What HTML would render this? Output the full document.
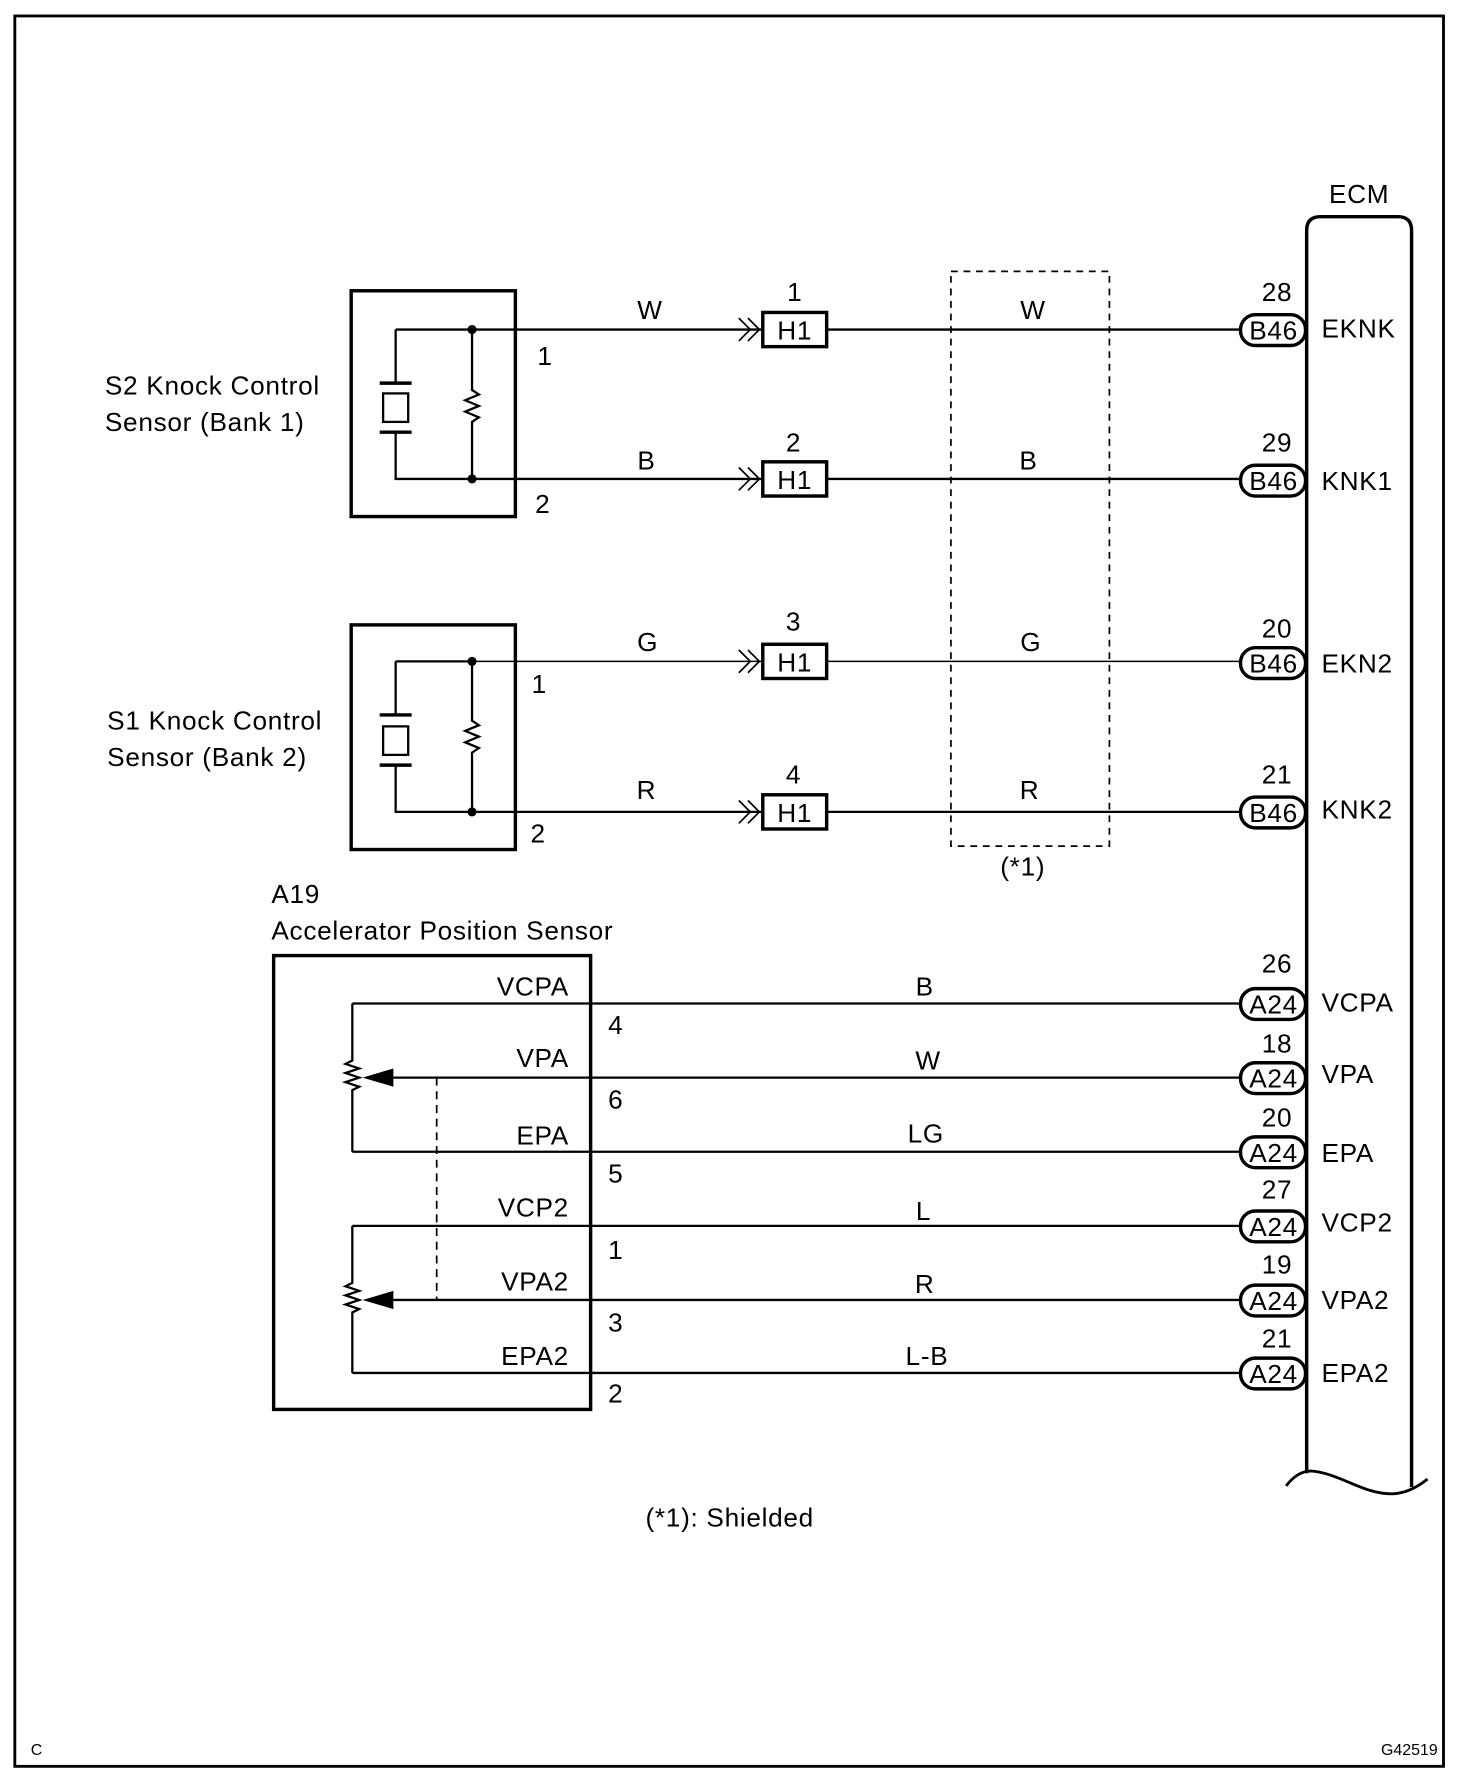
<!DOCTYPE html>
<html><head><meta charset="utf-8"><style>
html,body{margin:0;padding:0;background:#fff;}
svg{display:block;}
text{font-family:"Liberation Sans",Arial,sans-serif;font-size:23px;letter-spacing:0.6px;fill:#000;dominant-baseline:central;}
.m{text-anchor:middle}.e{text-anchor:end}
</style></head><body>
<svg width="1472" height="1788" viewBox="0 0 1291 1568" preserveAspectRatio="none" xmlns="http://www.w3.org/2000/svg">
<g fill="none" stroke="#000" stroke-width="2">
<rect x="13" y="14" width="1253" height="1535" stroke-width="2.5"/>
<path d="M1146,1292 V202 Q1146,190 1158,190 H1226 Q1238,190 1238,202 V1304" stroke-width="3"/>
<path d="M1128,1303 Q1138,1290 1150,1290 C1175,1292 1195,1310 1220,1310 Q1236,1310 1252,1297" stroke-width="2.5"/>
<rect x="834" y="238" width="139" height="504" stroke-dasharray="6,5" stroke-width="1.5"/>
<rect x="308" y="255" width="144" height="198" stroke-width="3"/>
<path d="M414,289 V342 l6,4 -12,5 12,5 -12,5 12,5 -6,4 V420"/>
<path d="M347,289 H414 M347,289 V336 M347,379 V420 H414"/>
<path d="M333,336 H361 M333,379 H361" stroke-width="3"/>
<rect x="336" y="345" width="22" height="25"/>
<rect x="308" y="548" width="144" height="197" stroke-width="3"/>
<path d="M414,580 V632 l6,4 -12,5 12,5 -12,5 12,5 -6,4 V712"/>
<path d="M347,580 H414 M347,580 V627 M347,671 V712 H414"/>
<path d="M333,627 H361 M333,671 H361" stroke-width="3"/>
<rect x="336" y="637" width="22" height="25"/>
<path d="M414,289 H668 M414,420 H668 M414,712 H668 M725,289 H1088 M725,420 H1088 M725,712 H1088"/>
<path d="M414,580 H668 M725,580 H1088" stroke-width="1.3"/>
<path d="M648,279 l10,10 -10,10 M656,279 l10,10 -10,10 M648,410 l10,10 -10,10 M656,410 l10,10 -10,10 M648,570 l10,10 -10,10 M656,570 l10,10 -10,10 M648,702 l10,10 -10,10 M656,702 l10,10 -10,10" stroke-width="1.5"/>
<g stroke-width="3">
<rect x="669" y="274" width="56" height="30"/><rect x="669" y="405" width="56" height="30"/>
<rect x="669" y="565" width="56" height="30"/><rect x="669" y="697" width="56" height="30"/>
</g>
<g stroke-width="3">
<rect x="1088" y="276" width="57" height="27" rx="13"/><rect x="1088" y="408" width="57" height="27" rx="13"/>
<rect x="1088" y="568" width="57" height="27" rx="13"/><rect x="1088" y="699" width="57" height="27" rx="13"/>
<rect x="1088" y="867" width="57" height="27" rx="13"/><rect x="1088" y="932" width="57" height="27" rx="13"/>
<rect x="1088" y="997" width="57" height="27" rx="13"/><rect x="1088" y="1062" width="57" height="27" rx="13"/>
<rect x="1088" y="1127" width="57" height="27" rx="13"/><rect x="1088" y="1191" width="57" height="27" rx="13"/>
</g>
<rect x="240" y="838" width="278" height="398" stroke-width="3"/>
<path d="M309,880 H1088 M345,945 H1088 M309,1010 H1088 M309,1075 H1088 M345,1140 H1088 M309,1204 H1088"/>
<path d="M309,880 V930 l-6,3 12,4 -12,4 12,4 -12,4 12,4 -6,3 V1010"/>
<path d="M309,1075 V1125 l-6,3 12,4 -12,4 12,4 -12,4 12,4 -6,3 V1204"/>
<path d="M383,945 V1140" stroke-dasharray="7,5" stroke-width="1.5"/>
</g>
<g fill="#000">
<circle cx="414" cy="289" r="4"/><circle cx="414" cy="420" r="4"/>
<circle cx="414" cy="580" r="4"/><circle cx="414" cy="712" r="4"/>
<polygon points="318,945 345,937 345,953"/><polygon points="318,1140 345,1132 345,1148"/>
</g>
<text class="m" x="1192" y="170">ECM</text>
<text x="92" y="338">S2 Knock Control</text><text x="92" y="370">Sensor (Bank 1)</text>
<text x="94" y="632">S1 Knock Control</text><text x="94" y="664">Sensor (Bank 2)</text>
<text class="m" x="478" y="312">1</text><text class="m" x="476" y="442">2</text>
<text class="m" x="473" y="600">1</text><text class="m" x="472" y="731">2</text>
<text class="m" x="570" y="272">W</text><text class="m" x="567" y="404">B</text>
<text class="m" x="568" y="563">G</text><text class="m" x="567" y="693">R</text>
<text class="m" x="697" y="256">1</text><text class="m" x="696" y="388">2</text>
<text class="m" x="696" y="545">3</text><text class="m" x="696" y="679">4</text>
<text class="m" x="697" y="290">H1</text><text class="m" x="697" y="421">H1</text>
<text class="m" x="697" y="581">H1</text><text class="m" x="697" y="713">H1</text>
<text class="m" x="906" y="272">W</text><text class="m" x="902" y="404">B</text>
<text class="m" x="904" y="563">G</text><text class="m" x="903" y="693">R</text>
<text class="m" x="897" y="760">(*1)</text>
<text class="m" x="1120" y="256">28</text><text class="m" x="1120" y="388">29</text>
<text class="m" x="1120" y="551">20</text><text class="m" x="1120" y="679">21</text>
<text class="m" x="1117" y="290">B46</text><text class="m" x="1117" y="422">B46</text>
<text class="m" x="1117" y="582">B46</text><text class="m" x="1117" y="713">B46</text>
<text x="1159" y="288">EKNK</text><text x="1159" y="422">KNK1</text>
<text x="1159" y="582">EKN2</text><text x="1159" y="710">KNK2</text>
<text x="238" y="784">A19</text><text x="238" y="816">Accelerator Position Sensor</text>
<text class="e" x="499" y="865">VCPA</text><text class="e" x="499" y="928">VPA</text>
<text class="e" x="499" y="996">EPA</text><text class="e" x="499" y="1059">VCP2</text>
<text class="e" x="499" y="1124">VPA2</text><text class="e" x="499" y="1189">EPA2</text>
<text class="m" x="540" y="899">4</text><text class="m" x="540" y="964">6</text>
<text class="m" x="540" y="1029">5</text><text class="m" x="540" y="1096">1</text>
<text class="m" x="540" y="1160">3</text><text class="m" x="540" y="1222">2</text>
<text class="m" x="811" y="865">B</text><text class="m" x="814" y="930">W</text>
<text class="m" x="812" y="994">LG</text><text class="m" x="810" y="1062">L</text>
<text class="m" x="811" y="1126">R</text><text class="m" x="813" y="1189">L-B</text>
<text class="m" x="1120" y="845">26</text><text class="m" x="1120" y="915">18</text>
<text class="m" x="1120" y="980">20</text><text class="m" x="1120" y="1043">27</text>
<text class="m" x="1120" y="1109">19</text><text class="m" x="1120" y="1174">21</text>
<text class="m" x="1117" y="881">A24</text><text class="m" x="1117" y="946">A24</text>
<text class="m" x="1117" y="1011">A24</text><text class="m" x="1117" y="1076">A24</text>
<text class="m" x="1117" y="1141">A24</text><text class="m" x="1117" y="1205">A24</text>
<text x="1159" y="879">VCPA</text><text x="1159" y="942">VPA</text>
<text x="1159" y="1011">EPA</text><text x="1159" y="1072">VCP2</text>
<text x="1159" y="1140">VPA2</text><text x="1159" y="1204">EPA2</text>
<text class="m" x="640" y="1331">(*1): Shielded</text>
<text x="27" y="1535" style="font-size:14px;letter-spacing:0">C</text>
<text class="e" x="1261" y="1535" style="font-size:14px;letter-spacing:0">G42519</text>
</svg>
</body></html>
